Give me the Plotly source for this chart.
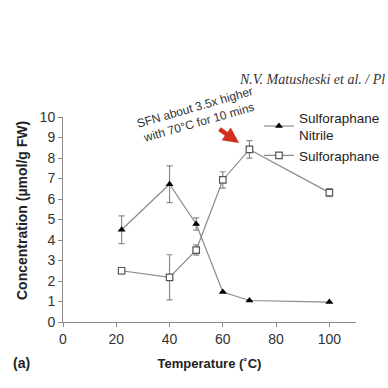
import plotly.graph_objects as go

temps = [22, 40, 50, 60, 70, 100]
nitrile = [4.5, 6.72, 4.78, 1.46, 1.05, 0.97]
nitrile_err = [0.68, 0.9, 0.3, 0.0, 0.0, 0.0]
sfn = [2.5, 2.18, 3.51, 6.93, 8.42, 6.31]
sfn_err = [0.15, 1.1, 0.25, 0.4, 0.43, 0.2]

x_ticks = [0, 20, 40, 60, 80, 100]
y_ticks = list(range(0, 11))

FONT = "Liberation Sans, Arial, sans-serif"
GRAY = "#8a8a8a"

L, R, T, B = 63, 32, 117, 66
PW, PH = 388 - L - R, 388 - T - B


def px(xp):
    return (xp - L) / PW


def py(yp):
    return (388 - B - yp) / PH


fig = go.Figure()
fig.add_trace(go.Scatter(
    x=temps, y=nitrile, mode="lines+markers", name="Sulforaphane<br>Nitrile",
    line=dict(color=GRAY, width=1.2),
    marker=dict(symbol="triangle-up", size=7, color="black", line=dict(width=0)),
    error_y=dict(type="data", array=nitrile_err, color=GRAY, thickness=1.2, width=3),
    cliponaxis=False,
))
fig.add_trace(go.Scatter(
    x=temps, y=sfn, mode="lines+markers", name="Sulforaphane",
    line=dict(color=GRAY, width=1.2),
    marker=dict(symbol="square", size=6.5, color="white", line=dict(width=1.2, color="#555")),
    error_y=dict(type="data", array=sfn_err, color=GRAY, thickness=1.2, width=3),
    cliponaxis=False,
))

fig.update_layout(
    width=388, height=388,
    margin=dict(l=L, r=R, t=T, b=B, autoexpand=False),
    paper_bgcolor="white", plot_bgcolor="white",
    font=dict(family=FONT, size=14, color="#222"),
    showlegend=True,
    legend=dict(x=px(259), y=py(102), xanchor="left", yanchor="top",
                font=dict(size=13.5, color="#222"), bgcolor="rgba(0,0,0,0)",
                tracegroupgap=1, itemwidth=30),
    xaxis=dict(range=[0, 110], tickvals=x_ticks, showgrid=False, zeroline=False,
               showline=True, linecolor=GRAY, linewidth=1, ticks="outside",
               ticklen=4, tickcolor=GRAY, tickfont=dict(size=14, color="#333"),
               title=dict(text="<b>Temperature (˚C)</b>", font=dict(size=13, color="#222"), standoff=13)),
    yaxis=dict(range=[0, 10], tickvals=y_ticks, showgrid=False, zeroline=False,
               showline=True, linecolor=GRAY, linewidth=1, ticks="outside",
               ticklen=4, tickcolor=GRAY, tickfont=dict(size=14, color="#333")),
)

fig.add_annotation(xref="paper", yref="paper", x=px(22), y=py(211),
                   xanchor="center", yanchor="middle", showarrow=False, textangle=-90,
                   text="<b>Concentration (µmol/g FW)</b>", font=dict(size=14, color="#222"))
fig.add_annotation(xref="paper", yref="paper", x=px(387), y=py(79),
                   xanchor="right", yanchor="middle", showarrow=False,
                   text="<i>N.V. Matusheski et al. / Pl</i>",
                   font=dict(family="Liberation Serif, Times New Roman, serif", size=14, color="#333"))
fig.add_annotation(xref="paper", yref="paper", x=px(21), y=py(363),
                   xanchor="center", yanchor="middle", showarrow=False,
                   text="<b>(a)</b>", font=dict(size=14, color="#222"))
fig.add_annotation(xref="paper", yref="paper", x=px(197), y=py(115),
                   xanchor="center", yanchor="middle", showarrow=False, textangle=-16,
                   text="SFN about 3.5x higher<br>with 70°C for 10 mins",
                   font=dict(size=12, color="#333"))
fig.add_annotation(xref="paper", yref="paper", x=px(239), y=py(143),
                   ax=-21, ay=-15, axref="pixel", ayref="pixel",
                   showarrow=True, arrowhead=2, arrowsize=0.7, arrowwidth=4.5,
                   arrowcolor="#d0301e", text="")

fig.write_html("out.html", config={"displayModeBar": False},
               post_script="document.body.style.margin='0';document.body.style.padding='0';")
